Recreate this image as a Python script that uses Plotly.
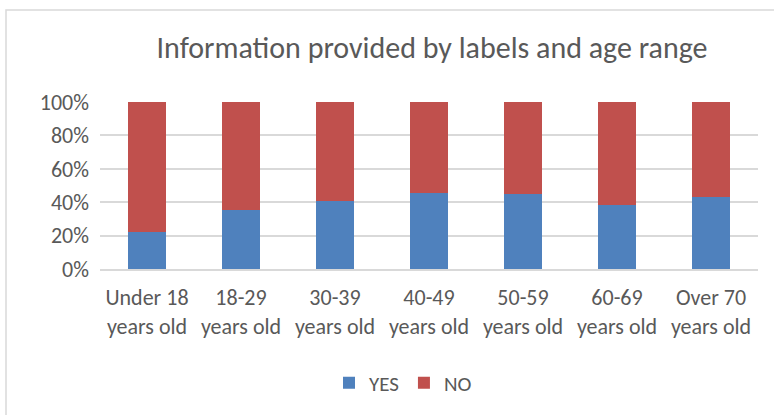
import plotly.graph_objects as go

categories = ["Under 18<br>years old", "18-29<br>years old", "30-39<br>years old",
              "40-49<br>years old", "50-59<br>years old", "60-69<br>years old",
              "Over 70<br>years old"]
yes_vals = [0.224, 0.354, 0.408, 0.458, 0.452, 0.382, 0.430]
no_vals = [0.776, 0.646, 0.592, 0.542, 0.548, 0.618, 0.570]
y_ticks = [0, 0.2, 0.4, 0.6, 0.8, 1.0]
y_tick_text = ["0%", "20%", "40%", "60%", "80%", "100%"]
title_text = "Information provided by labels and age range"

FONT = "Calibri, Carlito, Lato, 'Open Sans', sans-serif"
TXT = "#595959"
W, H = 774, 415

fig = go.Figure()
fig.add_trace(go.Bar(name="YES", x=categories, y=yes_vals, marker_color="#4f81bd",
                     marker_line_width=0))
fig.add_trace(go.Bar(name="NO", x=categories, y=no_vals, marker_color="#c0504d",
                     marker_line_width=0))

fig.update_layout(
    width=W, height=H,
    barmode="stack", bargap=0.6,
    paper_bgcolor="white", plot_bgcolor="white",
    margin=dict(l=100, r=16, t=102, b=146, autoexpand=False),
    font=dict(family=FONT, color=TXT, size=22),
    title=dict(text=title_text, xref="container", yref="container",
               x=432 / W, y=1 - 47 / H, xanchor="center", yanchor="middle",
               font=dict(family=FONT, size=30, color=TXT)),
    legend=dict(orientation="h", xref="container", yref="container",
                x=403 / W, y=1 - 383 / H, xanchor="center", yanchor="middle",
                font=dict(family=FONT, size=21, color=TXT),
                itemwidth=30, tracegroupgap=0, traceorder="normal"),
    showlegend=True,
)
fig.update_yaxes(range=[0, 1], tickvals=y_ticks, ticktext=y_tick_text,
                 showgrid=True, gridcolor="#d9d9d9", gridwidth=1.5,
                 zeroline=False, ticks="", ticklabelstandoff=10,
                 tickfont=dict(family=FONT, size=22, color=TXT))
fig.update_xaxes(showline=True, linecolor="#d9d9d9", linewidth=1.5, ticks="",
                 ticklabelstandoff=8,
                 tickfont=dict(family=FONT, size=22, color=TXT))

fig.add_shape(type="rect", xref="paper", yref="paper",
              x0=-(100 - 6) / (W - 116), x1=(W + 10 - 100) / (W - 116),
              y0=-(146 + 10) / (H - 248), y1=(H - 10 - 146) / (H - 248),
              line=dict(color="#d9d9d9", width=1.5), layer="below")

fig.write_html("out.html", config={"displayModeBar": False},
               post_script="document.body.style.margin='0';document.body.style.overflow='hidden';")
